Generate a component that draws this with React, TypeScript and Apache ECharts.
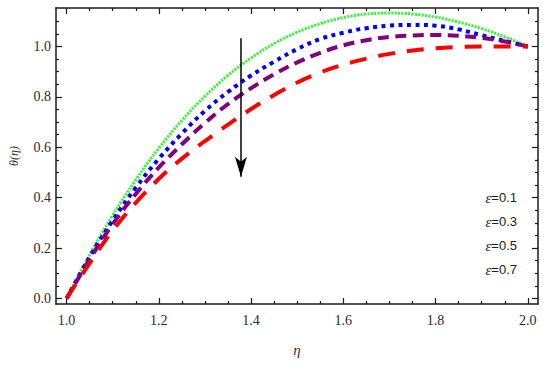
import React, { useEffect, useRef } from 'react';
import * as echarts from 'echarts';

// η values (x axis)
const eta = [1.0, 1.05, 1.1, 1.15, 1.2, 1.25, 1.3, 1.35, 1.4, 1.45, 1.5, 1.55, 1.6, 1.65, 1.7, 1.75, 1.8, 1.85, 1.9, 1.95, 2.0];

// θ(η) for each ε
const thetaEps01 = [0, 0.174, 0.331, 0.471, 0.597, 0.707, 0.803, 0.886, 0.955, 1.012, 1.057, 1.091, 1.115, 1.129, 1.133, 1.129, 1.117, 1.097, 1.071, 1.038, 1.0];
const thetaEps03 = [0, 0.165, 0.31, 0.44, 0.555, 0.655, 0.745, 0.82, 0.885, 0.94, 0.99, 1.03, 1.055, 1.073, 1.083, 1.086, 1.083, 1.068, 1.045, 1.022, 1.0];
const thetaEps05 = [0, 0.155, 0.295, 0.415, 0.52, 0.612, 0.697, 0.772, 0.835, 0.89, 0.937, 0.975, 1.005, 1.025, 1.038, 1.044, 1.046, 1.043, 1.034, 1.02, 1.0];
const thetaEps07 = [0, 0.14, 0.27, 0.38, 0.475, 0.555, 0.625, 0.69, 0.752, 0.808, 0.857, 0.897, 0.928, 0.952, 0.971, 0.984, 0.993, 0.998, 1.0, 1.0, 1.0];

const seriesNames = ['ε=0.1', 'ε=0.3', 'ε=0.5', 'ε=0.7'];

// tick values
const xMajorTicks = [1.0, 1.2, 1.4, 1.6, 1.8, 2.0];
const xMinorTicks = [1.05, 1.1, 1.15, 1.25, 1.3, 1.35, 1.45, 1.5, 1.55, 1.65, 1.7, 1.75, 1.85, 1.9, 1.95];
const yMajorTicks = [0.0, 0.2, 0.4, 0.6, 0.8, 1.0];
const yMinorTicks = [0.05, 0.1, 0.15, 0.25, 0.3, 0.35, 0.45, 0.5, 0.55, 0.65, 0.7, 0.75, 0.85, 0.9, 0.95, 1.05, 1.1];

// arrow annotation (direction of increasing ε)
const arrowEta = 1.378;
const arrowFrom = 1.033;
const arrowTo = 0.483;

const X_MIN = 0.977;
const X_MAX = 2.022;
const Y_MIN = -0.022;
const Y_MAX = 1.153;

const FRAME = '#1a1a1a';
const LABEL = '#2a2a3a';

function makeAxis(kind: 'x' | 'y', position: string, ticks: number[], major: boolean, withLabels: boolean, extra: any = {}) {
  return {
    type: 'value',
    position,
    min: kind === 'x' ? X_MIN : Y_MIN,
    max: kind === 'x' ? X_MAX : Y_MAX,
    splitLine: { show: false },
    axisLine: { show: major, onZero: false, lineStyle: { color: FRAME, width: 1.5 } },
    axisTick: {
      show: true,
      inside: true,
      length: major ? 6 : 3,
      customValues: ticks,
      lineStyle: { color: FRAME, width: 1.2 },
    },
    axisLabel: withLabels
      ? {
          show: true,
          customValues: ticks,
          formatter: (v: number) => v.toFixed(1),
          fontFamily: 'Liberation Serif',
          fontSize: 14,
          color: LABEL,
          margin: kind === 'x' ? 9 : 5,
        }
      : { show: false },
    ...extra,
  };
}

export default function App() {
  const ref = useRef<HTMLDivElement>(null);

  useEffect(() => {
    if (!ref.current) return;
    const chart = echarts.init(ref.current, undefined, { renderer: 'svg' });

    const colors = ['#3ff23f', '#0000ff', '#800080', '#ff0000'];
    const dashes = [[2.2, 1.2], [4, 4.5], [11, 6.5], [17, 12]];
    const widths = [3, 4, 4, 4];
    const values = [thetaEps01, thetaEps03, thetaEps05, thetaEps07];

    const series: any[] = values.map((vals, i) => ({
      name: seriesNames[i],
      type: 'line',
      xAxisIndex: 0,
      yAxisIndex: 0,
      data: eta.map((x, j) => [x, vals[j]]),
      showSymbol: false,
      symbol: 'none',
      smooth: 0.4,
      itemStyle: { color: colors[i] },
      lineStyle: { color: colors[i], width: widths[i], type: dashes[i], cap: 'butt' },
      emphasis: { disabled: true },
      silent: true,
    }));

    series.push({
      name: 'arrow',
      type: 'line',
      xAxisIndex: 0,
      yAxisIndex: 0,
      data: [],
      silent: true,
      markLine: {
        silent: true,
        animation: false,
        symbol: ['none', 'arrow'],
        symbolSize: [9, 20],
        label: { show: false },
        lineStyle: { color: '#000', width: 1.5, type: 'solid' },
        emphasis: { disabled: true },
        data: [[{ coord: [arrowEta, arrowFrom] }, { coord: [arrowEta, arrowTo] }]],
      },
    });

    chart.setOption({
      animation: false,
      backgroundColor: '#ffffff',
      grid: { left: 56, right: 12, top: 8, bottom: 64, containLabel: false },
      legend: {
        data: seriesNames,
        orient: 'vertical',
        right: 33,
        top: 190,
        padding: 0,
        align: 'left',
        itemGap: 9,
        itemWidth: 0,
        itemHeight: 14,
        icon: 'none',
        selectedMode: false,
        formatter: (name: string) => `{e|ε}{v|${name.slice(1)}}`,
        textStyle: {
          color: '#222',
          fontSize: 13,
          rich: {
            e: { fontFamily: 'Liberation Serif', fontStyle: 'italic', fontSize: 15, color: '#222', lineHeight: 14 },
            v: { fontFamily: 'Liberation Sans', fontSize: 13, color: '#222', lineHeight: 14 },
          },
        },
      },
      xAxis: [
        makeAxis('x', 'bottom', xMajorTicks, true, true, {
          name: 'η',
          nameLocation: 'middle',
          nameGap: 38,
          nameTextStyle: { fontFamily: 'Liberation Serif', fontStyle: 'italic', fontSize: 15, color: '#333' },
        }),
        makeAxis('x', 'bottom', xMinorTicks, false, false),
        makeAxis('x', 'top', xMajorTicks, true, false),
        makeAxis('x', 'top', xMinorTicks, false, false),
      ],
      yAxis: [
        makeAxis('y', 'left', yMajorTicks, true, true, {
          name: 'θ(η)',
          nameLocation: 'middle',
          nameGap: 36,
          nameTextStyle: { fontFamily: 'Liberation Serif', fontStyle: 'italic', fontSize: 12, color: '#333' },
        }),
        makeAxis('y', 'left', yMinorTicks, false, false),
        makeAxis('y', 'right', yMajorTicks, true, false),
        makeAxis('y', 'right', yMinorTicks, false, false),
      ],
      series,
    });

    return () => chart.dispose();
  }, []);

  return (
    <div
      ref={ref}
      style={{ position: 'fixed', left: 0, top: 0, width: 550, height: 368, background: '#fff' }}
    />
  );
}
